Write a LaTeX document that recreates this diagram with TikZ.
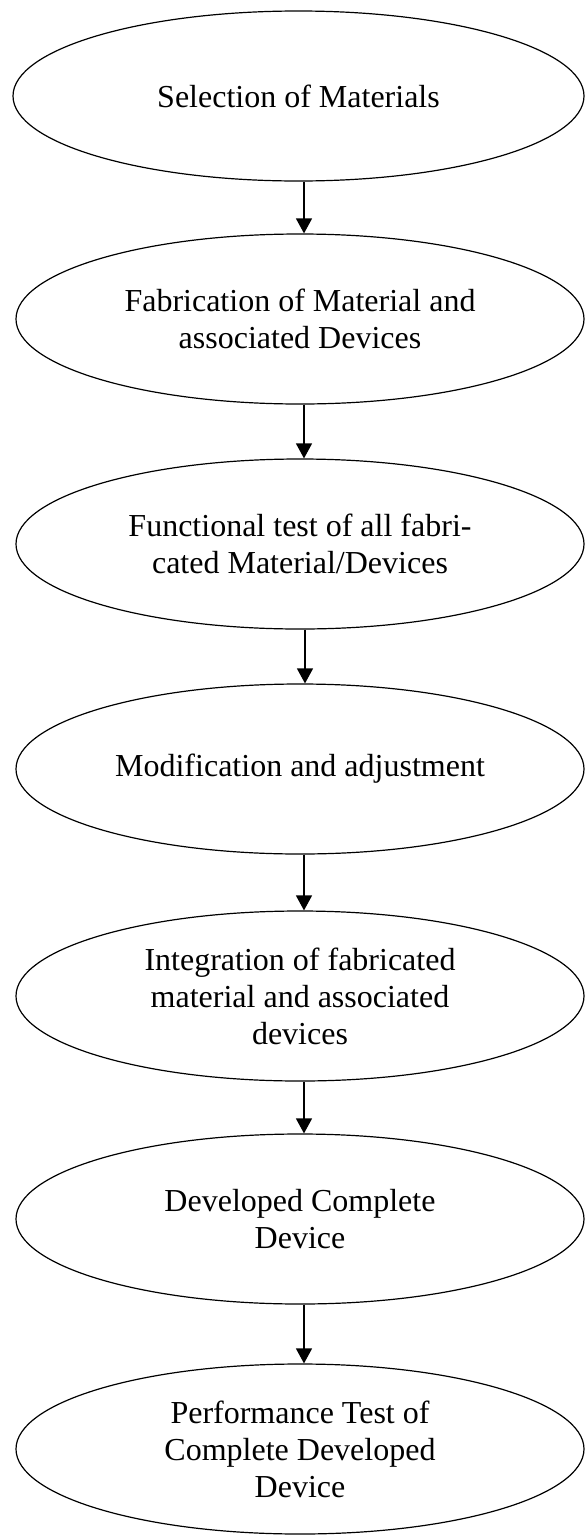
\documentclass[tikz,border=0pt]{standalone}
\usepackage{fontspec}
\setmainfont{Liberation Serif}
\usetikzlibrary{shapes.geometric,arrows.meta}
\begin{document}
\begin{tikzpicture}[x=1pt,y=1pt,
  stage/.style={draw=black,line width=1.2pt,ellipse,minimum width=568pt,minimum height=170pt,inner sep=0pt,align=center,font=\fontsize{32}{37}\selectfont},
  flow/.style={line width=1.3pt,-{Triangle[width=16pt,length=15pt]}}]
\useasboundingbox (0,0) rectangle (585,-1537);
\node[stage,minimum width=571pt] (e1) at (298.5,-96) {Selection of Materials};
\node[stage] (e2) at (300,-319) {Fabrication of Material and\\associated Devices};
\node[stage] (e3) at (300,-544) {Functional test of all fabri-\\cated Material/Devices};
\node[stage] (e4) at (300,-769) {Modification and adjustment};
\node[stage] (e5) at (300,-996) {Integration of fabricated\\material and associated\\devices};
\node[stage] (e6) at (300,-1219) {Developed Complete\\Device};
\node[stage] (e7) at (300,-1449) {Performance Test of\\Complete Developed\\Device};
\draw[flow] ([xshift=5.5pt]e1.south) -- ([xshift=4pt]e2.north);
\draw[flow] ([xshift=4pt]e2.south) -- ([xshift=4pt]e3.north);
\draw[flow] ([xshift=5pt]e3.south) -- ([xshift=5pt]e4.north);
\draw[flow] ([xshift=4pt]e4.south) -- ([xshift=4pt]e5.north);
\draw[flow] ([xshift=4pt]e5.south) -- ([xshift=4pt]e6.north);
\draw[flow] ([xshift=4pt]e6.south) -- ([xshift=4pt]e7.north);
\end{tikzpicture}
\end{document}
